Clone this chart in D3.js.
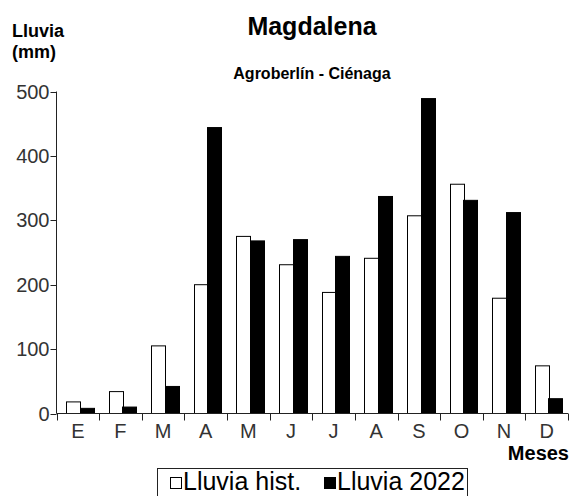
<!DOCTYPE html>
<html><head><meta charset="utf-8">
<script src="https://cdn.jsdelivr.net/npm/d3@7"></script>
<style>html,body{margin:0;padding:0;background:#fff;}svg{display:block;}</style>
</head><body>
<script>
const months = ["E","F","M","A","M","J","J","A","S","O","N","D"];
const lluviaHist = [18, 34, 105, 200, 275, 231, 188, 241, 307, 356, 179, 74];
const lluvia2022 = [8, 10, 42, 444, 268, 270, 244, 337, 489, 331, 312, 23];
const yTicks = [0, 100, 200, 300, 400, 500];
const seriesNames = ["Lluvia hist.", "Lluvia 2022"];
const seriesFill = ["#ffffff", "#000000"];

const W = 571, H = 496;
const svg = d3.select("body").append("svg").attr("width", W).attr("height", H)
  .style("font-family", "'Liberation Sans', Arial, sans-serif");

const x0 = 56.5, x1 = 568, yTop = 91.5, yBot = 413.5;
const x = d3.scaleBand().domain(d3.range(12)).range([x0, x1]).padding(0);
const xs = d3.scaleBand().domain([0, 1]).range([x.bandwidth()*0.22, x.bandwidth()*0.86]).padding(0);
const y = d3.scaleLinear().domain([0, 500]).range([yBot, yTop]);

const data = months.map((m, i) => ({i, vals: [lluviaHist[i], lluvia2022[i]]}));

// bars
const g = svg.append("g");
data.forEach(d => {
  d.vals.forEach((v, s) => {
    g.append("rect")
      .attr("x", Math.round(x(d.i) + xs(s)) + 0.5)
      .attr("y", y(v))
      .attr("width", Math.round(xs.bandwidth()))
      .attr("height", yBot - y(v))
      .attr("fill", seriesFill[s])
      .attr("stroke", "#000").attr("stroke-width", 1);
  });
});

// y axis
const ya = svg.append("g");
ya.append("line").attr("x1", x0).attr("x2", x0).attr("y1", yTop).attr("y2", yBot).attr("stroke", "#222");
yTicks.forEach(t => {
  ya.append("line").attr("x1", x0 - 6).attr("x2", x0).attr("y1", Math.round(y(t)) + 0.5).attr("y2", Math.round(y(t)) + 0.5).attr("stroke", "#222");
  ya.append("text").attr("x", x0 - 7).attr("y", y(t) + 7).attr("text-anchor", "end")
    .attr("font-size", 20).attr("fill", "#333").text(t);
});

// x axis
const xa = svg.append("g");
xa.append("line").attr("x1", x0).attr("x2", x1).attr("y1", yBot).attr("y2", yBot).attr("stroke", "#222");
d3.range(13).forEach(k => {
  const xp = Math.round(x0 + k * x.step()) + 0.5;
  xa.append("line").attr("x1", xp).attr("x2", xp).attr("y1", yBot).attr("y2", yBot + 7).attr("stroke", "#222");
});
months.forEach((m, i) => {
  xa.append("text").attr("x", x(i) + x.bandwidth()/2).attr("y", yBot + 24).attr("text-anchor", "middle")
    .attr("font-size", 20).attr("fill", "#333").text(m);
});

// titles
svg.append("text").attr("x", 312).attr("y", 35).attr("text-anchor", "middle")
  .attr("font-size", 25).attr("font-weight", "bold").text("Magdalena");
svg.append("text").attr("x", 312).attr("y", 79).attr("text-anchor", "middle")
  .attr("font-size", 16).attr("font-weight", "bold").text("Agroberlín - Ciénaga");
svg.append("text").attr("x", 12).attr("y", 37)
  .attr("font-size", 18).attr("font-weight", "bold").text("Lluvia");
svg.append("text").attr("x", 12).attr("y", 58)
  .attr("font-size", 18).attr("font-weight", "bold").text("(mm)");
svg.append("text").attr("x", 569).attr("y", 460).attr("text-anchor", "end")
  .attr("font-size", 20).attr("font-weight", "bold").text("Meses");

// legend
const lg = svg.append("g");
lg.append("rect").attr("x", 157.5).attr("y", 468.5).attr("width", 310).attr("height", 40)
  .attr("fill", "#fff").attr("stroke", "#222");
const legX = [170, 324];
seriesNames.forEach((n, s) => {
  lg.append("rect").attr("x", legX[s] + 0.5).attr("y", 477.5).attr("width", 11).attr("height", 11)
    .attr("fill", seriesFill[s]).attr("stroke", "#000");
  lg.append("text").attr("x", legX[s] + 13).attr("y", 490).attr("font-size", 25).text(n);
});
</script>
</body></html>
